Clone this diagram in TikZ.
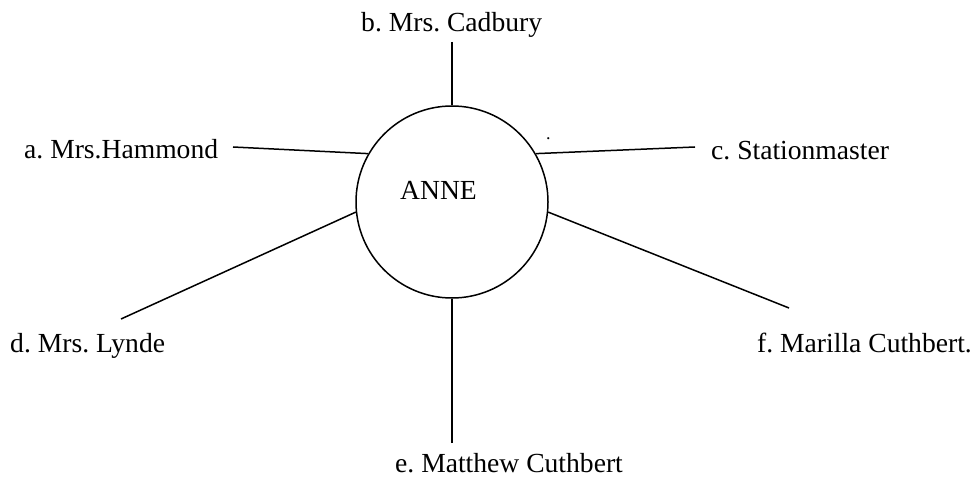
\documentclass[tikz,border=0pt]{standalone}
\usepackage{fontspec}
\setmainfont{Liberation Serif}
\frenchspacing
\begin{document}
\begin{tikzpicture}[x=1pt,y=-1pt,
  lbl/.style={anchor=base west,inner sep=0pt,font=\fontsize{27.6}{33}\selectfont\frenchspacing},
  hub/.style={draw,circle,line width=1.5pt,minimum size=192pt,inner sep=0pt},
  spoke/.style={line width=1.5pt}]
\useasboundingbox (0,0) rectangle (976,486);
\node[hub] (anne) at (452,202) {};
\node[lbl] (annetext) at (400,200) {ANNE};
\node[anchor=base west,inner sep=0pt,font=\fontsize{18}{20}\selectfont] (dot) at (546,140) {.};
\node[lbl] (ta) at (24,159) {a. Mrs.Hammond};
\node[lbl] (tb) at (361,32) {b. Mrs. Cadbury};
\node[lbl] (tc) at (711,160) {c. Stationmaster};
\node[lbl] (td) at (10,352) {d. Mrs. Lynde};
\node[lbl] (tf) at (757,352) {f. Marilla Cuthbert.};
\node[lbl] (te) at (395,472) {e. Matthew Cuthbert};
\coordinate (ea) at (233,147);
\coordinate (eb) at (452,42);
\coordinate (ec) at (695,147);
\coordinate (ed) at (121,319);
\coordinate (ef) at (789,308);
\coordinate (ee) at (452,443);
\draw[spoke] (ea) -- (anne.150.5);
\draw[spoke] (eb) -- (anne.90);
\draw[spoke] (ec) -- (anne.30);
\draw[spoke] (ed) -- (anne.186.5);
\draw[spoke] (ef) -- (anne.-6);
\draw[spoke] (ee) -- (anne.270);
\end{tikzpicture}
\end{document}
